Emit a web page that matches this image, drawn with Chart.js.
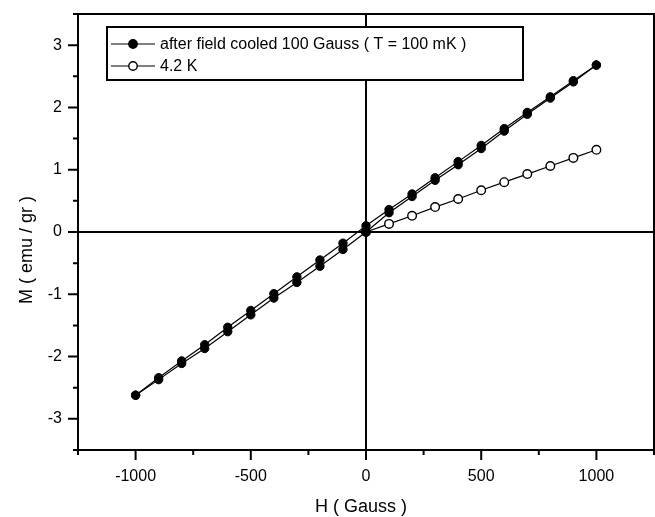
<!DOCTYPE html>
<html>
<head>
<meta charset="utf-8">
<script src="https://cdn.jsdelivr.net/npm/chart.js@4"></script>
<style>
  html, body { margin: 0; padding: 0; background: #fff; }
  #wrap { width: 655px; height: 517px; }
</style>
</head>
<body>
<div id="wrap"><canvas id="mh"></canvas></div>
<script>
// Field values (Gauss) for the field-cooled loop
const hLoop = [1000, 900, 800, 700, 600, 500, 400, 300, 200, 100, 0,
  -100, -200, -300, -400, -500, -600, -700, -800, -900, -1000];
// descending branch (1000 -> -1000)
const mDown = [2.68, 2.43, 2.17, 1.92, 1.66, 1.39, 1.13, 0.87, 0.61, 0.36, 0.10,
  -0.18, -0.45, -0.72, -0.99, -1.26, -1.53, -1.81, -2.07, -2.34, -2.62];
// ascending branch, same field order (1000 -> -1000)
const mUp = [2.68, 2.41, 2.15, 1.89, 1.62, 1.34, 1.08, 0.83, 0.57, 0.31, 0.00,
  -0.28, -0.55, -0.81, -1.06, -1.33, -1.60, -1.87, -2.11, -2.37, -2.62];

// 4.2 K curve
const hWarm = [0, 100, 200, 300, 400, 500, 600, 700, 800, 900, 1000];
const mWarm = [0.00, 0.13, 0.26, 0.40, 0.53, 0.67, 0.80, 0.93, 1.06, 1.19, 1.32];

const xTicks = [-1250, -1000, -750, -500, -250, 0, 250, 500, 750, 1000, 1250];
const yTicks = [-3.5, -3, -2.5, -2, -1.5, -1, -0.5, 0, 0.5, 1, 1.5, 2, 2.5, 3, 3.5];

const legendLabels = ["after field cooled 100 Gauss ( T = 100 mK )", "4.2 K"];
const xTitle = "H ( Gauss )";
const yTitle = "M ( emu / gr )";

const FONT = "'Liberation Sans', Arial, Helvetica, sans-serif";
const pts = (xs, ys) => xs.map((x, i) => ({ x: x, y: ys[i] }));

// frame, tick marks, legend box and axis titles
const decor = {
  id: "decor",
  afterDraw(chart) {
    const ctx = chart.ctx;
    const a = chart.chartArea;
    const sx = chart.scales.x, sy = chart.scales.y;
    ctx.save();
    ctx.strokeStyle = "#000";
    ctx.lineWidth = 2;
    ctx.strokeRect(a.left, a.top, a.right - a.left, a.bottom - a.top);

    ctx.beginPath();
    xTicks.forEach(v => {
      const px = sx.getPixelForValue(v);
      const len = v % 500 === 0 ? 10 : 5;
      ctx.moveTo(px, a.bottom);
      ctx.lineTo(px, a.bottom + len);
    });
    yTicks.forEach(v => {
      const py = sy.getPixelForValue(v);
      const len = Number.isInteger(v) ? 10 : 5;
      ctx.moveTo(a.left, py);
      ctx.lineTo(a.left - len, py);
    });
    ctx.stroke();

    // legend
    const lx = a.left + 29, ly = a.top + 13;
    ctx.fillStyle = "#fff";
    ctx.fillRect(lx, ly, 416, 53);
    ctx.strokeRect(lx, ly, 416, 53);
    const rows = [ly + 17, ly + 39];
    ctx.lineWidth = 1.2;
    rows.forEach((ry, i) => {
      ctx.beginPath();
      ctx.moveTo(lx + 4, ry);
      ctx.lineTo(lx + 48, ry);
      ctx.stroke();
      ctx.beginPath();
      ctx.arc(lx + 26, ry, 4.2, 0, Math.PI * 2);
      ctx.fillStyle = i === 0 ? "#000" : "#fff";
      ctx.fill();
      ctx.lineWidth = 1.4;
      ctx.stroke();
      ctx.lineWidth = 1.2;
      ctx.fillStyle = "#000";
      ctx.font = "16px " + FONT;
      ctx.textBaseline = "middle";
      ctx.textAlign = "left";
      ctx.fillText(legendLabels[i], lx + 53, ry + 1);
    });

    // axis titles
    ctx.font = "18px " + FONT;
    ctx.textAlign = "center";
    ctx.textBaseline = "middle";
    ctx.fillText(xTitle, (a.left + a.right) / 2 - 5, 507);
    ctx.save();
    ctx.translate(27, (a.top + a.bottom) / 2 + 18);
    ctx.rotate(-Math.PI / 2);
    ctx.fillText(yTitle, 0, 0);
    ctx.restore();
    ctx.restore();
  }
};

new Chart(document.getElementById("mh"), {
  type: "scatter",
  data: {
    datasets: [
      {
        label: legendLabels[0],
        data: pts(hLoop, mDown),
        showLine: true,
        borderColor: "#000",
        borderWidth: 1.2,
        pointRadius: 4.2,
        pointBackgroundColor: "#000",
        pointBorderColor: "#000",
        pointBorderWidth: 1
      },
      {
        label: legendLabels[0] + " (return)",
        data: pts(hLoop, mUp),
        showLine: true,
        borderColor: "#000",
        borderWidth: 1.2,
        pointRadius: 4.2,
        pointBackgroundColor: "#000",
        pointBorderColor: "#000",
        pointBorderWidth: 1
      },
      {
        label: legendLabels[1],
        data: pts(hWarm, mWarm),
        showLine: true,
        borderColor: "#000",
        borderWidth: 1.2,
        pointRadius: 4.3,
        pointBackgroundColor: "#fff",
        pointBorderColor: "#000",
        pointBorderWidth: 1.4
      }
    ]
  },
  options: {
    responsive: true,
    maintainAspectRatio: false,
    animation: false,
    layout: { autoPadding: false, padding: { top: 14, right: 1, left: 0, bottom: 0 } },
    plugins: { legend: { display: false }, tooltip: { enabled: false } },
    scales: {
      x: {
        type: "linear",
        min: -1250,
        max: 1250,
        afterBuildTicks: s => { s.ticks = xTicks.map(v => ({ value: v })); },
        afterFit: s => { s.height = 67; s.paddingLeft = 0; s.paddingRight = 0; },
        border: { display: false },
        grid: {
          drawTicks: false,
          color: c => (c.tick && c.tick.value === 0 ? "#000" : "rgba(0,0,0,0)"),
          lineWidth: 2
        },
        ticks: {
          autoSkip: false,
          maxRotation: 0,
          padding: 17,
          color: "#000",
          font: { family: FONT, size: 16 },
          callback: v => (v % 500 === 0 ? String(v) : "")
        }
      },
      y: {
        min: -3.5,
        max: 3.5,
        afterBuildTicks: s => { s.ticks = yTicks.map(v => ({ value: v })); },
        afterFit: s => { s.width = 78; s.paddingTop = 0; s.paddingBottom = 0; },
        border: { display: false },
        grid: {
          drawTicks: false,
          color: c => (c.tick && c.tick.value === 0 ? "#000" : "rgba(0,0,0,0)"),
          lineWidth: 2
        },
        ticks: {
          autoSkip: false,
          padding: 16,
          color: "#000",
          font: { family: FONT, size: 16 },
          callback: v => (Number.isInteger(v) ? String(v) : "")
        }
      }
    }
  },
  plugins: [decor]
});
</script>
</body>
</html>
